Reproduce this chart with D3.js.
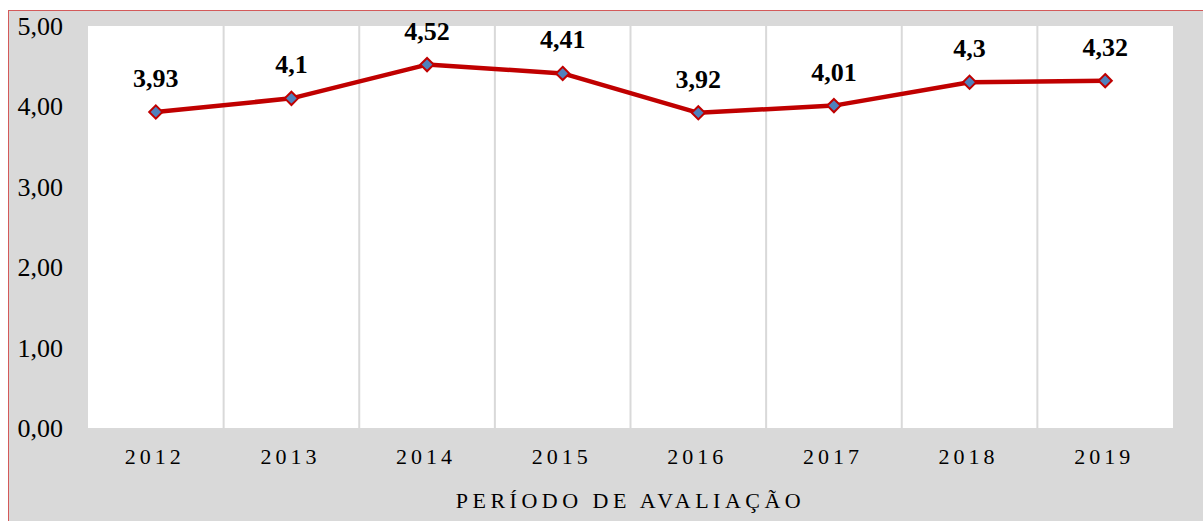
<!DOCTYPE html>
<html>
<head>
<meta charset="utf-8">
<script src="https://cdn.jsdelivr.net/npm/d3@7"></script>
<style>
  body { margin: 0; background: #fff; }
  svg { display: block; }
</style>
</head>
<body>
<div class="chart"></div>
<script>
const years = ["2012", "2013", "2014", "2015", "2016", "2017", "2018", "2019"];
const scores = [3.93, 4.1, 4.52, 4.41, 3.92, 4.01, 4.3, 4.32];
const yTicks = [0, 1, 2, 3, 4, 5];
const xTitle = "PERÍODO DE AVALIAÇÃO";

const W = 1203, H = 521;
const plot = { left: 88, top: 26, right: 1173, bottom: 428 };
const serif = "'Liberation Serif', 'Times New Roman', serif";

const svg = d3.select(".chart").append("svg")
  .attr("width", W)
  .attr("height", H);

// outer frame
svg.append("rect")
  .attr("x", 8.5).attr("y", 10.5)
  .attr("width", W).attr("height", H)
  .attr("fill", "#d9d9d9")
  .attr("stroke", "#d35a5a")
  .attr("stroke-width", 1);

svg.append("rect")
  .attr("x", plot.left).attr("y", plot.top)
  .attr("width", plot.right - plot.left)
  .attr("height", plot.bottom - plot.top)
  .attr("fill", "#fff");

const x = d3.scaleBand().domain(years).range([plot.left, plot.right]);
const y = d3.scaleLinear().domain([0, 5]).range([plot.bottom, plot.top]);

// vertical separators between categories
svg.append("g")
  .selectAll("line")
  .data(years.slice(1))
  .join("line")
  .attr("x1", d => x(d)).attr("x2", d => x(d))
  .attr("y1", plot.top).attr("y2", plot.bottom)
  .attr("stroke", "#d9d9d9")
  .attr("stroke-width", 2);

// y labels
svg.append("g")
  .selectAll("text")
  .data(yTicks)
  .join("text")
  .attr("x", 63)
  .attr("y", d => y(d) + 9)
  .attr("text-anchor", "end")
  .style("font-family", serif)
  .attr("font-size", 26)
  .attr("fill", "#000")
  .text(d => d3.format(".2f")(d).replace(".", ","));

// x labels
svg.append("g")
  .selectAll("text")
  .data(years)
  .join("text")
  .attr("x", d => x(d) + x.bandwidth() / 2 - 1)
  .attr("y", 464)
  .attr("text-anchor", "middle")
  .style("font-family", serif)
  .attr("font-size", 22)
  .attr("letter-spacing", 4)
  .attr("fill", "#000")
  .text(d => d);

svg.append("text")
  .attr("x", (plot.left + plot.right) / 2)
  .attr("y", 508)
  .attr("text-anchor", "middle")
  .style("font-family", serif)
  .attr("font-size", 22)
  .attr("letter-spacing", 4.5)
  .attr("fill", "#000")
  .text(xTitle);

const cx = (d, i) => x(years[i]) + x.bandwidth() / 2;

const line = d3.line()
  .x((d, i) => cx(d, i))
  .y(d => y(d));

svg.append("path")
  .datum(scores)
  .attr("d", line)
  .attr("fill", "none")
  .attr("stroke", "#c00000")
  .attr("stroke-width", 4.5)
  .attr("stroke-linejoin", "round");

svg.append("g")
  .selectAll("path")
  .data(scores)
  .join("path")
  .attr("d", d3.symbol(d3.symbolDiamond2, 112))
  .attr("transform", (d, i) => `translate(${cx(d, i)},${y(d)})`)
  .attr("fill", "#4f81bd")
  .attr("stroke", "#c00000")
  .attr("stroke-width", 2);

svg.append("g")
  .selectAll("text")
  .data(scores)
  .join("text")
  .attr("x", (d, i) => cx(d, i))
  .attr("y", d => y(d) - 25)
  .attr("text-anchor", "middle")
  .style("font-family", serif)
  .attr("font-weight", "bold")
  .attr("font-size", 26)
  .attr("fill", "#000")
  .text(d => String(d).replace(".", ","));
</script>
</body>
</html>
